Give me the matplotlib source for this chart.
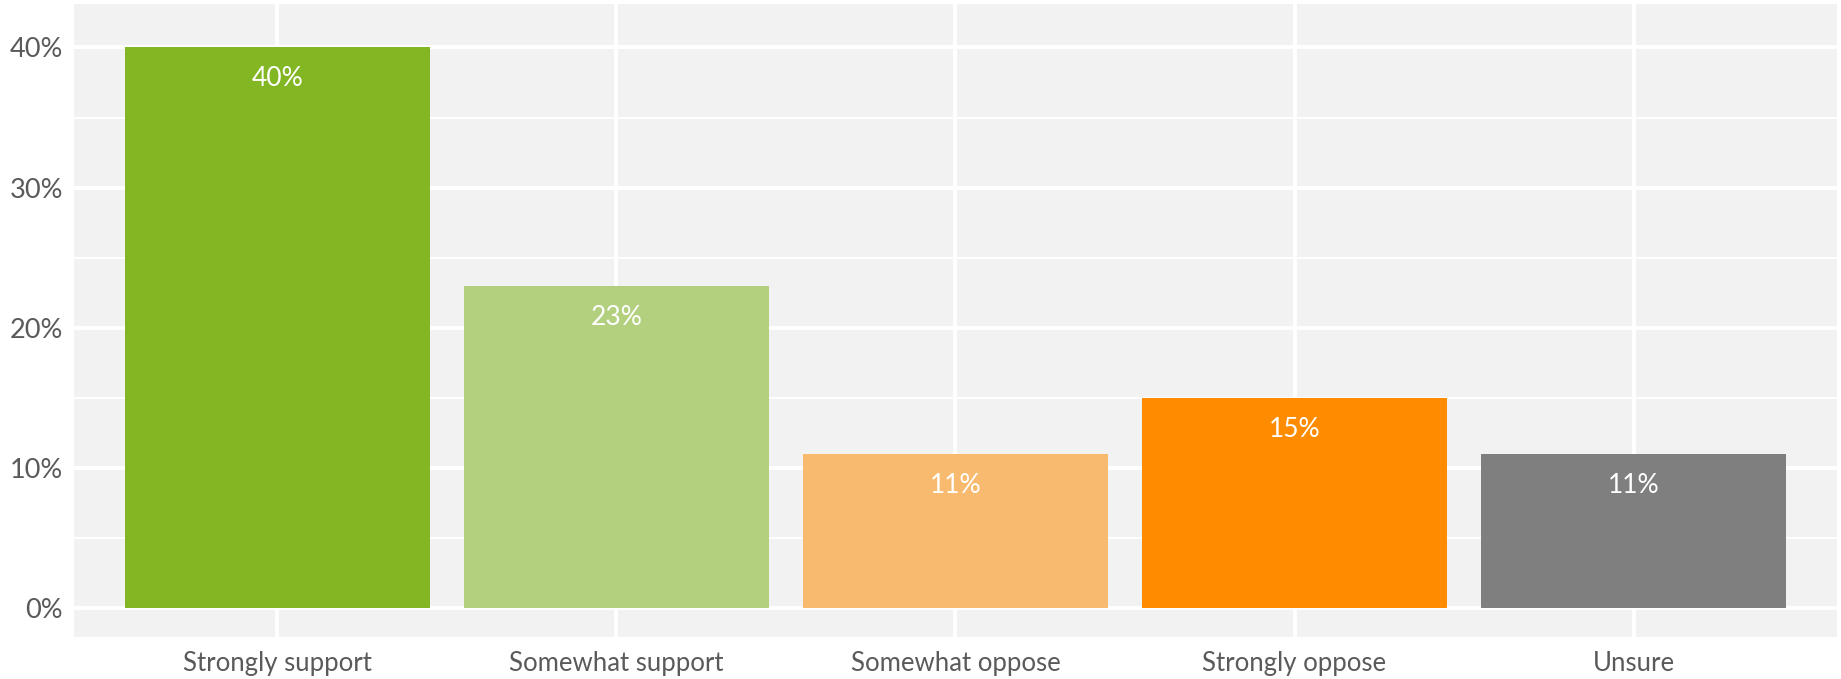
import numpy as np
import matplotlib
matplotlib.use('Agg')
import matplotlib.pyplot as plt
from matplotlib.ticker import MultipleLocator, FuncFormatter

categories = ['Strongly support', 'Somewhat support', 'Somewhat oppose', 'Strongly oppose', 'Unsure']
values = [40, 23, 11, 15, 11]
colors = ['#82b623', '#b3d07f', '#f8ba6e', '#ff8c00', '#7f7f7f']

plt.rcParams['font.family'] = ['Lato', 'DejaVu Sans']

fig = plt.figure(figsize=(18.41, 6.79), dpi=100)
ax = fig.add_axes([0.0402, 0.0619, 0.9576, 0.9322])
ax.set_facecolor('#f2f2f2')

x = np.arange(1, len(categories) + 1)
ax.bar(x, values, width=0.9, color=colors, zorder=3)

# value labels just inside the top of each bar
for xi, v in zip(x, values):
    ax.annotate('%d%%' % v, (xi, v), xytext=(0, -13.5), textcoords='offset points',
                ha='center', va='top', color='white', fontsize=19, zorder=4)

ax.set_xlim(0.4, 5.6)
ax.set_ylim(-2.05, 43.1)
ax.set_xticks(x)
ax.set_xticklabels(categories)
ax.yaxis.set_major_locator(MultipleLocator(10))
ax.yaxis.set_minor_locator(MultipleLocator(5))
ax.yaxis.set_major_formatter(FuncFormatter(lambda v, p: '%d%%' % v))

ax.grid(which='major', color='white', linewidth=2.8, zorder=1)
ax.grid(which='minor', axis='y', color='white', linewidth=1.4, zorder=1)
ax.set_axisbelow(True)
for s in ax.spines.values():
    s.set_visible(False)
ax.tick_params(which='both', length=0, labelcolor='#5a5a5a')
ax.tick_params(axis='y', pad=8, labelsize=19.5)
ax.tick_params(axis='x', pad=10, labelsize=18.5)

fig.savefig('out.png', dpi=100)
